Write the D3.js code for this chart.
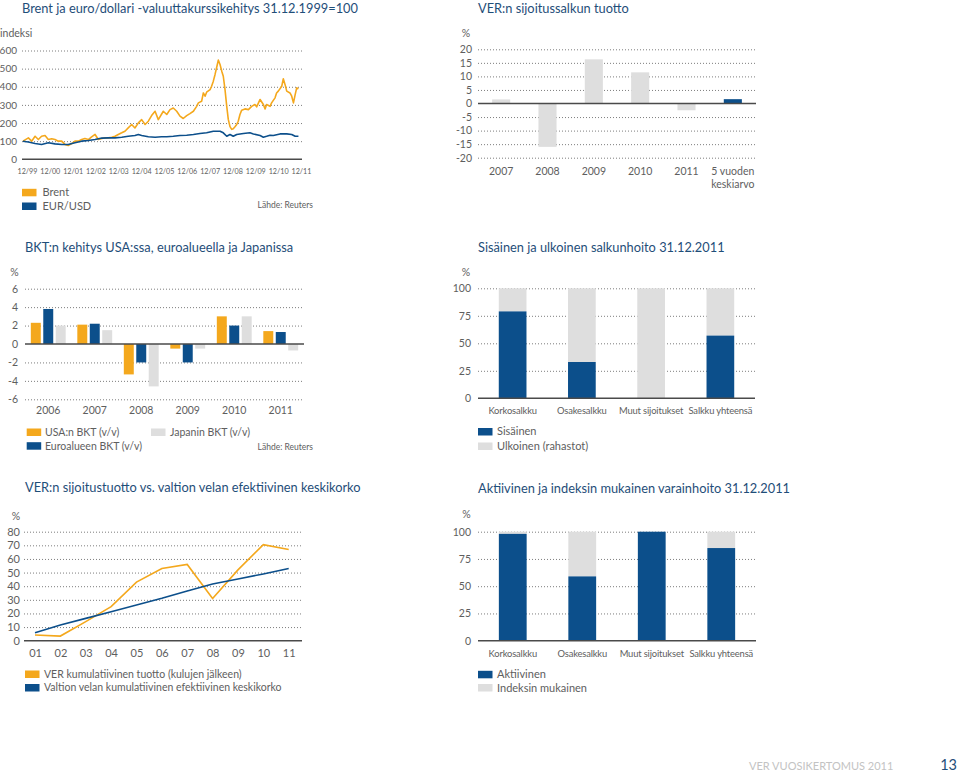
<!DOCTYPE html>
<html><head><meta charset="utf-8">
<script src="https://cdn.jsdelivr.net/npm/d3@7"></script>
<style>
body{margin:0;background:#fff;}
text{font-family:Lato,"Open Sans",sans-serif;}
</style>
</head><body>
<svg id="c" width="960" height="773"></svg>
<script>
// ================= DATA =================
// Panel 1: Brent & EUR/USD index (31.12.1999 = 100), months since 12/1999
const brentMonths = [0,2.8,4.5,6.3,8,9.7,11.5,13.2,15,16.7,18.4,20.2,21.9,23.6,25.4,27.1,28.9,30.6,32.3,34.1,35.8,37.6,39.3,41.1,42.8,44.5,46.3,48,49.7,51.5,53.2,54.9,56.7,58.4,60.2,61.9,63.7,65.4,67.1,68.9,70.6,73.2,75,76.7,78.4,80.2,81.9,83.6,85.4,87.1,88.9,90.6,91.5,93.2,94.1,95,95.8,97.6,98.4,99.3,100.2,101,101.9,102.8,103.7,104.5,105.4,106.3,107.1,108,108.9,109.7,110.6,111.5,112.3,113.2,114.1,115.8,117.6,119.3,121,121.9,123.7,125.4,126.3,127.1,128.9,129.7,131.5,132.3,133.2,135,135.8,136.7,137.6,139.3,140.2,141.1,142,142.8,143.7];
const brentValues = [100,118,100,127,109,127,131,109,113,109,100,100,82,76,87,100,100,109,115,109,124,137,109,115,118,118,122,127,137,146,155,173,192,173,201,219,192,210,241,265,219,265,247,274,283,265,238,225,241,252,265,292,311,320,366,348,370,384,403,431,468,505,547,523,486,458,384,292,220,180,165,169,180,192,210,247,271,278,274,292,302,289,330,302,278,302,292,311,339,366,376,403,444,413,376,366,348,311,357,394,389];
const eurUsdMonths = [0,2.8,6.3,9.7,13.2,16.7,20.2,23.6,27.1,30.6,34.1,37.6,41.1,44.5,48,51.5,54.9,58.4,60.2,61.9,65.4,68.9,72.3,75,78.4,81.9,85.4,88.9,92.3,95.8,99.3,102.8,104.5,106.3,108,109.7,111.5,115,118.4,120.2,123.7,125.4,127.1,128.9,130.6,134.1,137.6,140.2,142,143.7];
const eurUsdValues = [100,95,87,82,91,85,82,82,91,100,104,109,117,118,118,122,127,131,137,131,124,122,124,124,127,131,133,137,142,146,155,155,146,127,137,127,137,142,146,140,131,122,127,133,131,140,140,137,127,127];
const fxTickLabels = ["12/99","12/00","12/01","12/02","12/03","12/04","12/05","12/06","12/07","12/08","12/09","12/10","12/11"];
const fxYTicks = [0,100,200,300,400,500,600];

// Panel 2: VER portfolio return, %
const returnCategories = ["2007","2008","2009","2010","2011","5 vuoden keskiarvo"];
const returnValues = [1.5,-16,16.3,11.5,-2.5,1.6];
const returnYTicks = [-20,-15,-10,-5,0,5,10,15,20];

// Panel 3: GDP growth, %
const gdpYears = ["2006","2007","2008","2009","2010","2011"];
const gdpUSA   = [2.3,2.1,-3.3,-0.5,3.0,1.4];
const gdpEuro  = [3.8,2.2,-2.0,-2.0,2.0,1.3];
const gdpJapan = [2.0,1.5,-4.6,-0.5,3.0,-0.7];
const gdpYTicks = [-6,-4,-2,0,2,4,6];

// Panel 4 & 6: portfolio shares, %
const portfolioCategories = ["Korkosalkku","Osakesalkku","Muut sijoitukset","Salkku yhteensä"];
const internalShare = [79,33,0,57];
const externalShare = [21,67,100,43];
const activeShare = [98,59,100,85];
const indexShare  = [2,41,0,15];
const shareYTicks = [0,25,50,75,100];

// Panel 5: cumulative return vs. government debt interest, %
const cumYears = ["01","02","03","04","05","06","07","08","09","10","11"];
const verCumulative  = [4.2,3.4,14,25,43,53,56,31,52,70.5,67];
const debtCumulative = [5.9,11.5,16.4,21.3,26.2,31.1,36.5,41.6,45.3,49,53];
const cumYTicks = [0,10,20,30,40,50,60,70,80];

// ================= STYLE =================
const C = {orange:"#f4a81d", blue:"#0c4f8b", gray:"#dedede", title:"#1f4e79",
           text:"#5e5e5e", grid:"#6e6e6e", axis:"#4a4a4a"};
const svg = d3.select("#c");
svg.append("rect").attr("width",960).attr("height",773).attr("fill","#fff");

function title(x,y,t){
  svg.append("text").attr("x",x).attr("y",y).attr("dy","0.35em")
    .attr("fill",C.title).attr("font-size",12.8).text(t);
}
function label(x,y,t,opt={}){
  return svg.append("text").attr("x",x).attr("y",y).attr("dy","0.35em")
    .attr("fill",opt.fill||C.text).attr("font-size",opt.size||10)
    .attr("letter-spacing",opt.ls||0)
    .attr("text-anchor",opt.anchor||"start").text(t);
}
function yGrid(y, ticks, x0, x1, pad, size){
  const g = svg.append("g").attr("transform",`translate(${x0},0)`)
    .call(d3.axisLeft(y).tickValues(ticks).tickFormat(d=>String(d)).tickSize(-(x1-x0)).tickPadding(pad));
  g.select(".domain").remove();
  g.selectAll(".tick line").attr("stroke",C.grid).attr("stroke-width",0.9)
    .attr("stroke-dasharray","1,2").attr("display",d=>d===0?"none":null);
  g.selectAll(".tick text").attr("fill",C.text).attr("font-size",size||10)
    .attr("font-family","Lato,sans-serif");
  return g;
}
function zeroLine(y, x0, x1){
  svg.append("line").attr("x1",x0).attr("x2",x1).attr("y1",y(0)).attr("y2",y(0))
    .attr("stroke",C.axis).attr("stroke-width",1.5);
}
function xLabels(x, cy, size, ls){
  const g = svg.append("g").attr("transform",`translate(0,${cy})`)
    .call(d3.axisBottom(x).tickSize(0).tickPadding(0));
  g.select(".domain").remove();
  g.selectAll(".tick text").attr("y",0).attr("dy","0.35em")
    .attr("fill",C.text).attr("font-size",size||10).attr("letter-spacing",ls||0)
    .attr("font-family","Lato,sans-serif");
  return g;
}
function swatch(x,y,color){
  svg.append("rect").attr("x",x).attr("y",y-3.5).attr("width",14.5).attr("height",7.5).attr("fill",color);
}

// ================= PANEL 1 =================
title(22,8.5,"Brent ja euro/dollari -valuuttakurssikehitys 31.12.1999=100");
label(0,33,"indeksi",{size:10.5});
const p1y = d3.scaleLinear().domain([0,600]).range([159.3,50.5]);
const p1x = d3.scaleLinear().domain([0,144]).range([23,299]);
yGrid(p1y, fxYTicks, 22, 302, 5, 10);
const p1lab = d3.scalePoint().domain(fxTickLabels).range([27,301]);
xLabels(p1lab, 171, 7.2);
const line1 = d3.line().x(d=>p1x(d[0])).y(d=>p1y(d[1])).curve(d3.curveLinear);
svg.append("path").datum(d3.zip(brentMonths,brentValues)).attr("d",line1)
  .attr("fill","none").attr("stroke",C.orange).attr("stroke-width",1.6).attr("stroke-linejoin","round");
svg.append("path").datum(d3.zip(eurUsdMonths,eurUsdValues)).attr("d",line1)
  .attr("fill","none").attr("stroke",C.blue).attr("stroke-width",1.6).attr("stroke-linejoin","round");
zeroLine(p1y,22,302);
swatch(22,192.3,C.orange); label(42.5,192.3,"Brent",{size:11});
swatch(22,206,C.blue); label(42.5,206,"EUR/USD",{size:11});
label(313,205.5,"Lähde: Reuters",{size:8.5,anchor:"end"});

// ================= PANEL 2 =================
title(478,8.5,"VER:n sijoitussalkun tuotto");
label(466,33,"%",{anchor:"middle",size:10.5});
const p2y = d3.scaleLinear().domain([-20,20]).range([157.7,49.3]);
const p2x = d3.scaleBand().domain(returnCategories).range([478,756]).paddingInner(0.61).paddingOuter(0.305);
yGrid(p2y, returnYTicks, 478, 756, 6, 10.5);
svg.append("g").selectAll("rect").data(returnCategories).join("rect")
  .attr("x",d=>p2x(d)).attr("width",p2x.bandwidth())
  .attr("y",(d,i)=>p2y(Math.max(0,returnValues[i])))
  .attr("height",(d,i)=>Math.abs(p2y(returnValues[i])-p2y(0)))
  .attr("fill",(d,i)=>i===returnCategories.length-1?C.blue:C.gray);
zeroLine(p2y,478,756);
const g2 = xLabels(p2x,171,10.5);
g2.selectAll(".tick text").each(function(d){
  const parts = d.split(" ");
  if (parts.length>2){
    const t = d3.select(this).text(null);
    t.append("tspan").attr("x",0).text(parts.slice(0,2).join(" "));
    t.append("tspan").attr("x",0).attr("dy","1.25em").text(parts.slice(2).join(" "));
  }
});

// ================= PANEL 3 =================
title(25,247.5,"BKT:n kehitys USA:ssa, euroalueella ja Japanissa");
label(14.5,272.3,"%",{anchor:"middle",size:10.5});
const p3y = d3.scaleLinear().domain([-6,6]).range([399.3,288.7]);
const p3x0 = d3.scaleBand().domain(gdpYears).range([25,304]).paddingInner(0.25).paddingOuter(0.125);
const gdpSeries = [{key:"usa",vals:gdpUSA,color:C.orange},{key:"euro",vals:gdpEuro,color:C.blue},{key:"japan",vals:gdpJapan,color:C.gray}];
const p3x1 = d3.scaleBand().domain(gdpSeries.map(s=>s.key)).range([0,p3x0.bandwidth()]).paddingInner(0.2);
yGrid(p3y, gdpYTicks, 25, 304, 7, 10.5);
gdpSeries.forEach(s=>{
  svg.append("g").selectAll("rect").data(gdpYears).join("rect")
    .attr("x",d=>p3x0(d)+p3x1(s.key)).attr("width",p3x1.bandwidth())
    .attr("y",(d,i)=>p3y(Math.max(0,s.vals[i])))
    .attr("height",(d,i)=>Math.abs(p3y(s.vals[i])-p3y(0)))
    .attr("fill",s.color);
});
zeroLine(p3y,25,304);
xLabels(p3x0,410,10.5);
swatch(26.7,432,C.orange); label(45,432.3,"USA:n BKT (v/v)",{size:10.5});
swatch(151,432,C.gray); label(170,432.3,"Japanin BKT (v/v)",{size:10.5});
swatch(26.7,445.7,C.blue); label(45,446,"Euroalueen BKT (v/v)",{size:10.5});
label(313,447.3,"Lähde: Reuters",{size:8.5,anchor:"end"});

// ================= PANEL 4 =================
title(478,247.5,"Sisäinen ja ulkoinen salkunhoito 31.12.2011");
label(466,272.3,"%",{anchor:"middle",size:10.5});
const p4y = d3.scaleLinear().domain([0,100]).range([398.3,288.3]);
const p4x = d3.scaleBand().domain(portfolioCategories).range([478,755]).paddingInner(0.6).paddingOuter(0.3);
yGrid(p4y, shareYTicks, 478, 755, 7, 10.5);
const stack4 = portfolioCategories.map((c,i)=>({c, a:internalShare[i], b:externalShare[i]}));
svg.append("g").selectAll("rect").data(stack4).join("rect")
  .attr("x",d=>p4x(d.c)).attr("width",p4x.bandwidth())
  .attr("y",d=>p4y(d.a+d.b)).attr("height",d=>p4y(d.a)-p4y(d.a+d.b)).attr("fill",C.gray);
svg.append("g").selectAll("rect").data(stack4).join("rect")
  .attr("x",d=>p4x(d.c)).attr("width",p4x.bandwidth())
  .attr("y",d=>p4y(d.a)).attr("height",d=>p4y(0)-p4y(d.a)).attr("fill",C.blue);
zeroLine(p4y,478,755);
xLabels(p4x,411,9.4,-0.15);
swatch(478,431.5,C.blue); label(497,431.5,"Sisäinen",{size:11});
swatch(478,446,C.gray); label(497,446.5,"Ulkoinen (rahastot)",{size:11});

// ================= PANEL 5 =================
title(25,488,"VER:n sijoitustuotto vs. valtion velan efektiivinen keskikorko");
label(16,516.7,"%",{anchor:"middle",size:10.5});
const p5y = d3.scaleLinear().domain([0,80]).range([640.7,531.7]);
const p5x = d3.scalePoint().domain(cumYears).range([35,288.7]);
yGrid(p5y, cumYTicks, 24, 302, 4, 11);
const line5 = d3.line().x((d,i)=>p5x(cumYears[i])).y(d=>p5y(d));
svg.append("path").datum(verCumulative).attr("d",line5).attr("fill","none")
  .attr("stroke",C.orange).attr("stroke-width",1.6);
svg.append("path").datum(debtCumulative).attr("d",line5).attr("fill","none")
  .attr("stroke",C.blue).attr("stroke-width",1.6);
zeroLine(p5y,24,302);
xLabels(p5x,653.3,11);
swatch(25,674,C.orange); label(44,674,"VER kumulatiivinen tuotto (kulujen jälkeen)",{size:10.5});
swatch(25,687.5,C.blue); label(44,687.5,"Valtion velan kumulatiivinen efektiivinen keskikorko",{size:10.5});

// ================= PANEL 6 =================
title(478,489,"Aktiivinen ja indeksin mukainen varainhoito 31.12.2011");
label(466.5,514.3,"%",{anchor:"middle",size:10.5});
const p6y = d3.scaleLinear().domain([0,100]).range([640.7,531.7]);
const p6x = d3.scaleBand().domain(portfolioCategories).range([478,756]).paddingInner(0.6).paddingOuter(0.3);
yGrid(p6y, shareYTicks, 478, 756, 7, 10.5);
const stack6 = portfolioCategories.map((c,i)=>({c, a:activeShare[i], b:indexShare[i]}));
svg.append("g").selectAll("rect").data(stack6).join("rect")
  .attr("x",d=>p6x(d.c)).attr("width",p6x.bandwidth())
  .attr("y",d=>p6y(d.a+d.b)).attr("height",d=>p6y(d.a)-p6y(d.a+d.b)).attr("fill",C.gray);
svg.append("g").selectAll("rect").data(stack6).join("rect")
  .attr("x",d=>p6x(d.c)).attr("width",p6x.bandwidth())
  .attr("y",d=>p6y(d.a)).attr("height",d=>p6y(0)-p6y(d.a)).attr("fill",C.blue);
zeroLine(p6y,478,756);
xLabels(p6x,653.3,9.4,-0.15);
swatch(478,674.3,C.blue); label(497,674.3,"Aktiivinen",{size:11});
swatch(478,687.5,C.gray); label(497,688,"Indeksin mukainen",{size:11});

// ================= FOOTER =================
label(749,766,"VER VUOSIKERTOMUS 2011",{size:11,fill:"#c3c3c3"});
label(957,765,"13",{size:14.5,fill:C.title,anchor:"end"});
</script>
</body></html>
